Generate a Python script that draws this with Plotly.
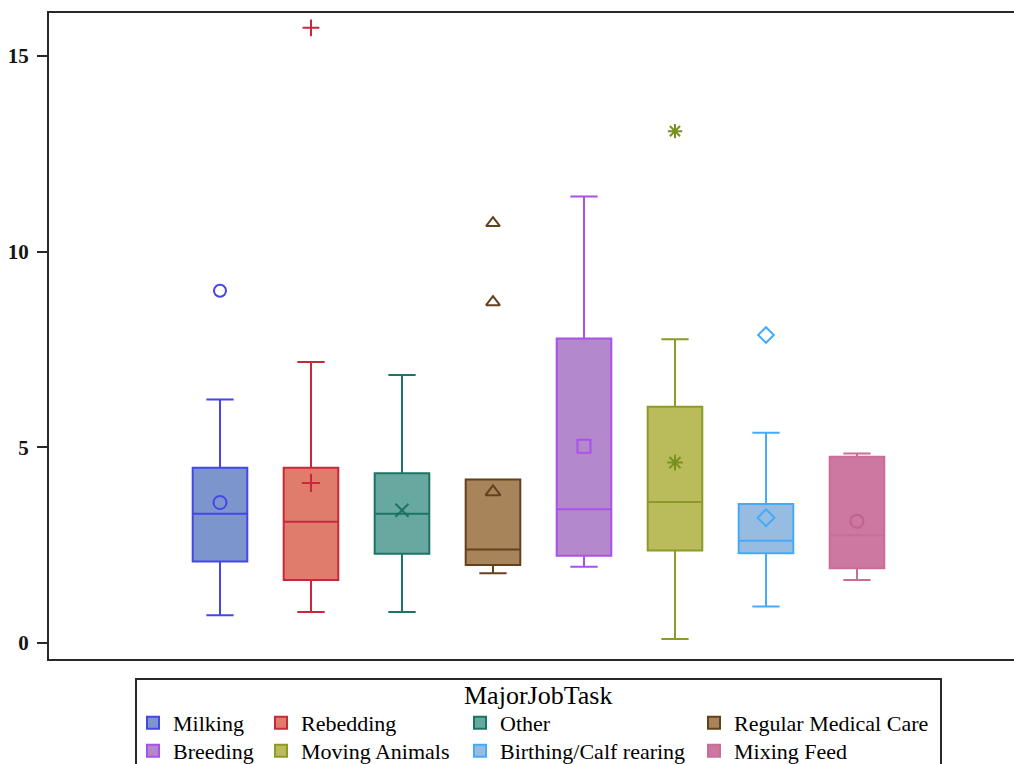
import plotly.graph_objects as go

# Box-plot summary per major job task
categories = ["Milking", "Rebedding", "Other", "Regular Medical Care",
              "Breeding", "Moving Animals", "Birthing/Calf rearing", "Mixing Feed"]
q1_vals = [2.08, 1.61, 2.28, 1.99, 2.23, 2.36, 2.29, 1.91]
median_vals = [3.30, 3.10, 3.30, 2.39, 3.42, 3.60, 2.61, 2.75]
q3_vals = [4.48, 4.48, 4.34, 4.18, 7.78, 6.04, 3.55, 4.76]
lower_whisker = [0.71, 0.79, 0.79, 1.78, 1.95, 0.10, 0.93, 1.61]
upper_whisker = [6.22, 7.18, 6.85, 4.18, 11.41, 7.76, 5.37, 4.84]
mean_vals = [3.59, 4.09, 3.39, 3.86, 5.03, 4.61, 3.20, 3.11]

# Outlying observations (category index, value)
outlier_cat = [0, 1, 3, 3, 5, 6]
outlier_val = [9.00, 15.72, 10.73, 8.71, 13.08, 7.87]

line_colors = ["rgb(70,70,230)", "rgb(200,40,60)", "rgb(30,115,100)", "rgb(100,65,30)",
               "rgb(170,80,235)", "rgb(140,155,40)", "rgb(70,170,250)", "rgb(200,110,150)"]
fill_colors = ["rgb(124,150,205)", "rgb(224,124,108)", "rgb(103,168,160)", "rgb(168,132,90)",
               "rgb(180,136,205)", "rgb(186,188,92)", "rgb(150,188,225)", "rgb(205,120,160)"]
marker_colors = ["rgb(70,70,230)", "rgb(200,40,60)", "rgb(30,115,100)", "rgb(100,65,30)",
                 "rgb(170,80,235)", "rgb(120,145,30)", "rgb(70,170,250)", "rgb(190,100,140)"]
symbols = ["circle-open", "cross-thin-open", "x-thin-open", "triangle-up-open",
           "square-open", "asterisk-open", "diamond-open", "circle-open"]

W, H = 1014, 764
ML, MR, MT, MB = 49, 0, 13, 105
PW, PH = W - ML - MR, H - MT - MB


def px_x(px):
    return (px - ML) / PW


def px_y(py):
    return (H - MB - py) / PH


# Legend layout: four columns by two rows, one legend block per entry
col_icon_x = [153, 281, 480, 714]
row_center_y = [724, 752]
legend_ids = ["legend"] + ["legend%d" % k for k in range(2, 9)]

fig = go.Figure()
for i, name in enumerate(categories):
    fig.add_trace(go.Box(
        x=[i], q1=[q1_vals[i]], median=[median_vals[i]], q3=[q3_vals[i]],
        lowerfence=[lower_whisker[i]], upperfence=[upper_whisker[i]],
        name=name, width=0.6, whiskerwidth=0.5, boxpoints=False,
        fillcolor=fill_colors[i], line=dict(color=line_colors[i], width=2),
        legend=legend_ids[i], hoverinfo="skip",
    ))

for i, name in enumerate(categories):
    fig.add_trace(go.Scatter(
        x=[i], y=[mean_vals[i]], mode="markers", showlegend=False,
        marker=dict(symbol=symbols[i], size=13, color=marker_colors[i],
                    line=dict(width=2, color=marker_colors[i])),
    ))

for c in sorted(set(outlier_cat)):
    ys = [v for k, v in zip(outlier_cat, outlier_val) if k == c]
    fig.add_trace(go.Scatter(
        x=[c] * len(ys), y=ys, mode="markers", showlegend=False,
        marker=dict(symbol=symbols[c], size=12, color=marker_colors[c],
                    line=dict(width=2, color=marker_colors[c])),
    ))

serif = "Liberation Serif, Times New Roman, serif"
layout_legends = {}
for i, lid in enumerate(legend_ids):
    col, row = i % 4, i // 4
    layout_legends[lid] = dict(
        x=px_x(col_icon_x[col] - 20), y=px_y(row_center_y[row] - 22),
        xanchor="left", yanchor="top",
        orientation="v", bgcolor="rgba(0,0,0,0)", borderwidth=0,
        font=dict(family=serif, size=22, color="black"),
    )

fig.update_layout(
    width=W, height=H,
    margin=dict(l=ML, r=MR, t=MT, b=MB, autoexpand=False),
    paper_bgcolor="white", plot_bgcolor="white",
    showlegend=True,
    **layout_legends,
    xaxis=dict(range=[-1.879, -1.879 + PW / 91.0], showgrid=False, zeroline=False,
               showticklabels=False, ticks="", showline=True, mirror=True,
               linecolor="rgb(40,40,40)", linewidth=2),
    yaxis=dict(range=[-0.41, 16.1], showgrid=False, zeroline=False,
               tickvals=[0, 5, 10, 15], ticks="outside", ticklen=10, tickwidth=2,
               tickcolor="rgb(40,40,40)", showline=True, linecolor="rgb(40,40,40)",
               linewidth=2, ticklabelstandoff=4,
               tickfont=dict(family=serif, size=21, color="rgb(20,20,20)", weight="bold")),
    shapes=[dict(type="rect", xref="paper", yref="paper",
                 x0=px_x(136), x1=px_x(941), y0=px_y(800), y1=px_y(679),
                 line=dict(color="rgb(40,40,40)", width=2), fillcolor="rgba(0,0,0,0)")],
    annotations=[dict(text="MajorJobTask", xref="paper", yref="paper",
                      x=px_x(538), y=px_y(695), xanchor="center", yanchor="middle",
                      showarrow=False, font=dict(family=serif, size=26, color="black"))],
)

fig.write_html("out.html")
